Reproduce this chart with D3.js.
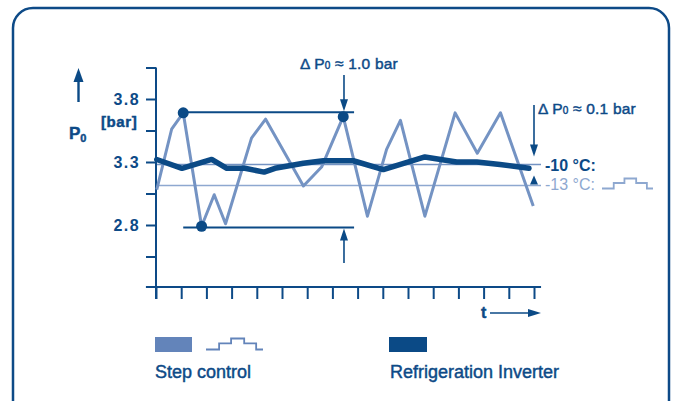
<!DOCTYPE html>
<html><head>
<meta charset="utf-8">
<title>Step control vs refrigeration inverter</title>
<script src="https://cdn.jsdelivr.net/npm/d3@7/dist/d3.min.js"></script>
<style>
  body { margin: 0; background: #fff; }
  svg { font-family: "Liberation Sans", Arial, sans-serif; }
  .axis line, .axis path { stroke: #0d4a87; stroke-width: 2; }
  .axis text { fill: #0d4a87; font-size: 16px; font-weight: bold; letter-spacing: 1.4px; }
  .lbl { fill: #0d4a87; stroke: #0d4a87; stroke-width: 0.45px; }
</style>
</head>
<body>
<svg id="chart" width="675" height="401"></svg>

<script>
// values (t in tick units, P0 in bar)
var stepT = [0.03, 0.62, 1.08, 1.81, 2.31, 2.76, 3.79, 4.35, 5.85, 6.57, 7.43, 8.39, 9.15, 9.70, 10.67, 11.87, 12.75, 13.67, 14.97]
var stepP = [3.08, 3.56, 3.69, 2.79, 3.04, 2.81, 3.49, 3.64, 3.11, 3.26, 3.66, 2.87, 3.40, 3.63, 2.87, 3.69, 3.37, 3.69, 2.95]

var invT = [0.03, 1.03, 2.21, 2.81, 3.53, 4.29, 4.72, 5.85, 6.64, 7.83, 9.02, 10.67, 11.93, 12.73, 13.65, 14.8]
var invP = [3.32, 3.25, 3.32, 3.25, 3.25, 3.22, 3.25, 3.29, 3.31, 3.31, 3.24, 3.34, 3.30, 3.30, 3.28, 3.25]

var yTicks = [2.55, 2.8, 3.05, 3.3, 3.55, 3.8, 4.05]
var yLabels = ["2.8", "3.3", "3.8"]
var xTicks = d3.range(0, 16)

var refLevels = [3.28, 3.113]          // -10 °C and -13 °C
var refLabels = ["-10 °C:", "-13 °C:"]
var dotIdx = [2, 3, 10]                // marked extremes of step control
var bandHi = 3.695, bandLo = 2.78      // Δ P0 ≈ 1.0 bar
var bandT = [1.08, 7.86], arrowT = 7.46

var dark = "#0b4a86", light = "#7493c3", pale = "#8ea8d0"

var svg = d3.select("#chart")

var x = d3.scaleLinear().domain([0, 15]).range([156, 534])
var y = d3.scaleLinear().domain([2.3, 4.05]).range([288, 67.5])

// frame
svg.append("rect")
  .attr("x", 13).attr("y", 8).attr("width", 656).attr("height", 420)
  .attr("rx", 20).attr("fill", "none").attr("stroke", "#0d4a87").attr("stroke-width", 2.5)

function tri(cx, cy, dir, w, h) {
  // dir: 1 = pointing down, -1 = pointing up, 2 = pointing right
  if (dir == 2) return "M" + cx + "," + cy + "l" + (-h) + "," + (-w/2) + "l0," + w + "z"
  return "M" + cx + "," + cy + "l" + (-w/2) + "," + (-h*dir) + "l" + w + ",0z"
}

// reference lines
svg.selectAll(".ref").data(refLevels).enter().append("line")
  .attr("x1", x(0)).attr("x2", 541)
  .attr("y1", d => y(d)).attr("y2", d => y(d))
  .attr("stroke", (d, i) => i == 0 ? light : pale).attr("stroke-width", 1.6)

// y axis
var yAxis = d3.axisLeft(y).tickValues(yTicks).tickSize(10).tickPadding(6)
  .tickFormat(d => yLabels.indexOf(d3.format(".2f")(d).replace(/0$/, "")) >= 0 ? d3.format(".1f")(d) : "")
var gy = svg.append("g").attr("class", "axis").attr("transform", "translate(" + x(0) + ",0)")
yAxis(gy)
gy.select(".domain").remove()
gy.append("line").attr("x1", 0).attr("x2", 0).attr("y1", y(4.05)).attr("y2", 299)

// x axis
var xAxis = d3.axisBottom(x).tickValues(xTicks).tickSize(12).tickFormat("")
var gx = svg.append("g").attr("class", "axis").attr("transform", "translate(0,287)")
xAxis(gx)
gx.select(".domain").remove()
gx.append("line").attr("x1", x(-0.4)).attr("x2", x(15.28)).attr("y1", 0).attr("y2", 0)

// step control line
var line = d3.line().x(d => x(d[0])).y(d => y(d[1]))
svg.append("path")
  .datum(d3.zip(stepT, stepP))
  .attr("d", line).attr("fill", "none")
  .attr("stroke", light).attr("stroke-width", 3).attr("stroke-linejoin", "round")

// inverter line
svg.append("path")
  .datum(d3.zip(invT, invP))
  .attr("d", line).attr("fill", "none")
  .attr("stroke", dark).attr("stroke-width", 5.5).attr("stroke-linejoin", "round").attr("stroke-linecap", "round")

// Δ P0 ≈ 1.0 bar band
svg.selectAll(".band").data([bandHi, bandLo]).enter().append("line")
  .attr("x1", x(bandT[0])).attr("x2", x(bandT[1]))
  .attr("y1", d => y(d)).attr("y2", d => y(d))
  .attr("stroke", dark).attr("stroke-width", 1.8)

svg.selectAll(".dot").data(dotIdx).enter().append("circle")
  .attr("cx", i => x(stepT[i])).attr("cy", i => y(stepP[i])).attr("r", 5.5)
  .attr("fill", dark)

var ax = x(arrowT)
svg.append("line").attr("x1", ax).attr("x2", ax).attr("y1", 75).attr("y2", y(bandHi) - 8)
  .attr("stroke", dark).attr("stroke-width", 1.6)
svg.append("path").attr("d", tri(ax, y(bandHi) - 1, 1, 8, 12)).attr("fill", dark)
svg.append("line").attr("x1", ax).attr("x2", ax).attr("y1", 263).attr("y2", y(bandLo) + 8)
  .attr("stroke", dark).attr("stroke-width", 1.6)
svg.append("path").attr("d", tri(ax, y(bandLo) + 1, -1, 8, 12)).attr("fill", dark)

function deltaLabel(tx, ty, val) {
  var t = svg.append("text").attr("class", "lbl").attr("x", tx).attr("y", ty)
    .style("font-size", "15.5px").style("letter-spacing", "0.2px")
  t.append("tspan").text("Δ P")
  t.append("tspan").style("font-size", "10px").text("0")
  t.append("tspan").text(" ≈ " + val + " bar")
}
deltaLabel(300, 69, "1.0")

// Δ P0 ≈ 0.1 bar
var bx = 534
svg.append("line").attr("x1", bx).attr("x2", bx).attr("y1", 105).attr("y2", 148)
  .attr("stroke", dark).attr("stroke-width", 1.6)
svg.append("path").attr("d", tri(bx, y(refLevels[0]) - 8, 1, 8, 12)).attr("fill", dark)
svg.append("path").attr("d", tri(bx, y(refLevels[1]) - 10, -1, 8, 9)).attr("fill", dark)
deltaLabel(538, 114, "0.1")

// reference labels
svg.append("text").attr("x", 545).attr("y", y(refLevels[0]) + 6).attr("fill", dark)
  .style("font-size", "16px").style("font-weight", "bold").text(refLabels[0])
svg.append("text").attr("x", 545).attr("y", y(refLevels[1]) + 4).attr("fill", pale)
  .style("font-size", "16px").text(refLabels[1])

// step icon
var stepIcon = [[0, 0], [0.23, 0], [0.23, 0.55], [0.44, 0.55], [0.44, 1], [0.67, 1], [0.67, 0.55], [0.88, 0.55], [0.88, 0], [1, 0]]
function drawStepIcon(x0, x1, yLow, yHigh, col) {
  var sx = d3.scaleLinear().range([x0, x1]), sy = d3.scaleLinear().range([yLow, yHigh])
  svg.append("path").datum(stepIcon)
    .attr("d", d3.line().x(d => sx(d[0])).y(d => sy(d[1])))
    .attr("fill", "none").attr("stroke", col).attr("stroke-width", 1.8)
}
drawStepIcon(602, 653, 188.5, 178.5, pale)

// P0 axis title with arrow
svg.append("line").attr("x1", 78.5).attr("x2", 78.5).attr("y1", 102).attr("y2", 80)
  .attr("stroke", dark).attr("stroke-width", 2.4)
svg.append("path").attr("d", tri(78.5, 68, -1, 10, 14)).attr("fill", dark)
var p0 = svg.append("text").attr("class", "lbl").attr("x", 69).attr("y", 139)
  .style("font-size", "17px").style("font-weight", "bold")
p0.append("tspan").text("P")
p0.append("tspan").attr("dy", 3).style("font-size", "11px").text("0")
svg.append("text").attr("class", "lbl").attr("x", 101).attr("y", 127)
  .style("font-size", "15px").style("font-weight", "bold").style("letter-spacing", "0.6px").text("[bar]")

// t arrow
svg.append("text").attr("class", "lbl").attr("x", 481).attr("y", 318)
  .style("font-size", "16px").style("font-weight", "bold").text("t")
svg.append("line").attr("x1", 490).attr("x2", 532).attr("y1", 313).attr("y2", 313)
  .attr("stroke", dark).attr("stroke-width", 1.6)
svg.append("path").attr("d", tri(541, 313, 2, 8, 13)).attr("fill", dark)

// legend
svg.append("rect").attr("x", 155).attr("y", 337).attr("width", 37).attr("height", 15).attr("fill", "#6384ba")
drawStepIcon(206, 263, 349.5, 338.5, "#6384ba")
svg.append("rect").attr("x", 389).attr("y", 337).attr("width", 38).attr("height", 15).attr("fill", dark)
svg.append("text").attr("class", "lbl").attr("x", 155).attr("y", 378).style("font-size", "18px").text("Step control")
svg.append("text").attr("class", "lbl").attr("x", 390).attr("y", 378).style("font-size", "18px").text("Refrigeration Inverter")
</script>
</body></html>
